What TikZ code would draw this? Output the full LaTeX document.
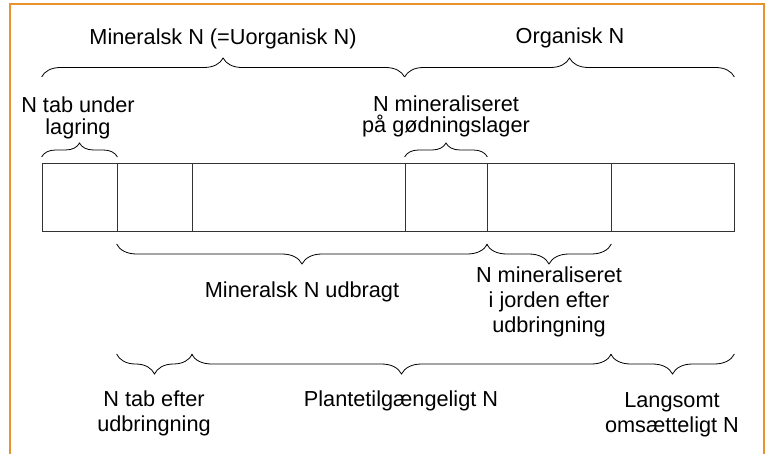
\documentclass[tikz,border=0pt]{standalone}
\usepackage{fontspec}
\setmainfont{Liberation Sans}
\usetikzlibrary{decorations.pathreplacing}
\definecolor{ramme}{RGB}{232,146,48}

\begin{document}
\begin{tikzpicture}[x=1pt,y=-1pt]
\tikzstyle{boks}=[draw=black!80,line width=0.8pt,minimum height=68pt,inner sep=0pt];
\tikzstyle{klamme}=[decorate,decoration={brace,amplitude=19pt},line width=0.8pt];
\tikzstyle{klammened}=[decorate,decoration={brace,mirror,amplitude=20pt},line width=0.8pt];
\tikzstyle{tekst}=[anchor=base,align=center,inner sep=0pt,font=\fontsize{21.7}{21.6}\selectfont];
\tikzstyle{tekstned}=[tekst,font=\fontsize{21.7}{25}\selectfont];
\useasboundingbox (0,0) rectangle (769,454);
\draw [ramme, line width=2.5pt] (10,470) -- (10,4) -- (764,4) -- (764,470);
% bokse
\node [boks, minimum width=75pt] (b1) at (79.5,197) {};
\node [boks, minimum width=75pt] (b2) at (154.5,197) {};
\node [boks, minimum width=213pt] (b3) at (298.5,197) {};
\node [boks, minimum width=82pt] (b4) at (446,197) {};
\node [boks, minimum width=124pt] (b5) at (549,197) {};
\node [boks, minimum width=123pt] (b6) at (672.5,197) {};
% klammer over
\draw [klamme] (b1.west |- 0,77) -- (b4.west |- 0,77);
\draw [klamme] (b4.west |- 0,77) -- (b6.east |- 0,77);
\draw [klamme, decoration={amplitude=14pt}] (b1.west |- 0,157) -- (b1.east |- 0,157);
\draw [klamme, decoration={amplitude=14pt}] (b4.west |- 0,157) -- (b4.east |- 0,157);
% klammer under
\draw [klammened] (b2.west |- 0,244) -- (b4.east |- 0,244);
\draw [klammened] (b5.west |- 0,244) -- (b5.east |- 0,244);
\draw [klammened] (b2.west |- 0,354) -- (b2.east |- 0,354);
\draw [klammened] (b3.west |- 0,354) -- (b5.east |- 0,354);
\draw [klammened] (b6.west |- 0,354) -- (b6.east |- 0,354);
% tekster (base = sidste linje)
\node [tekst] (mineralsk) at (223,45) {Mineralsk N (=Uorganisk N)};
\node [tekst] (organisk) at (570,44) {Organisk N};
\node [tekst] (tablager) at (78,134.3) {N tab under\\lagring};
\node [tekst] (minlager) at (446,133) {N mineraliseret\\på gødningslager};
\node [tekst] (udbragt) at (302,298) {Mineralsk N udbragt};
\node [tekstned] (minjord) at (549,332.7) {N mineraliseret\\i jorden efter\\udbringning};
\node [tekstned] (tabudb) at (154,431.7) {N tab efter\\udbringning};
\node [tekstned] (plante) at (401,406.7) {Plantetilgængeligt N};
\node [tekstned] (langsomt) at (672,432.5) {Langsomt\\omsætteligt N};
\end{tikzpicture}
\end{document}
